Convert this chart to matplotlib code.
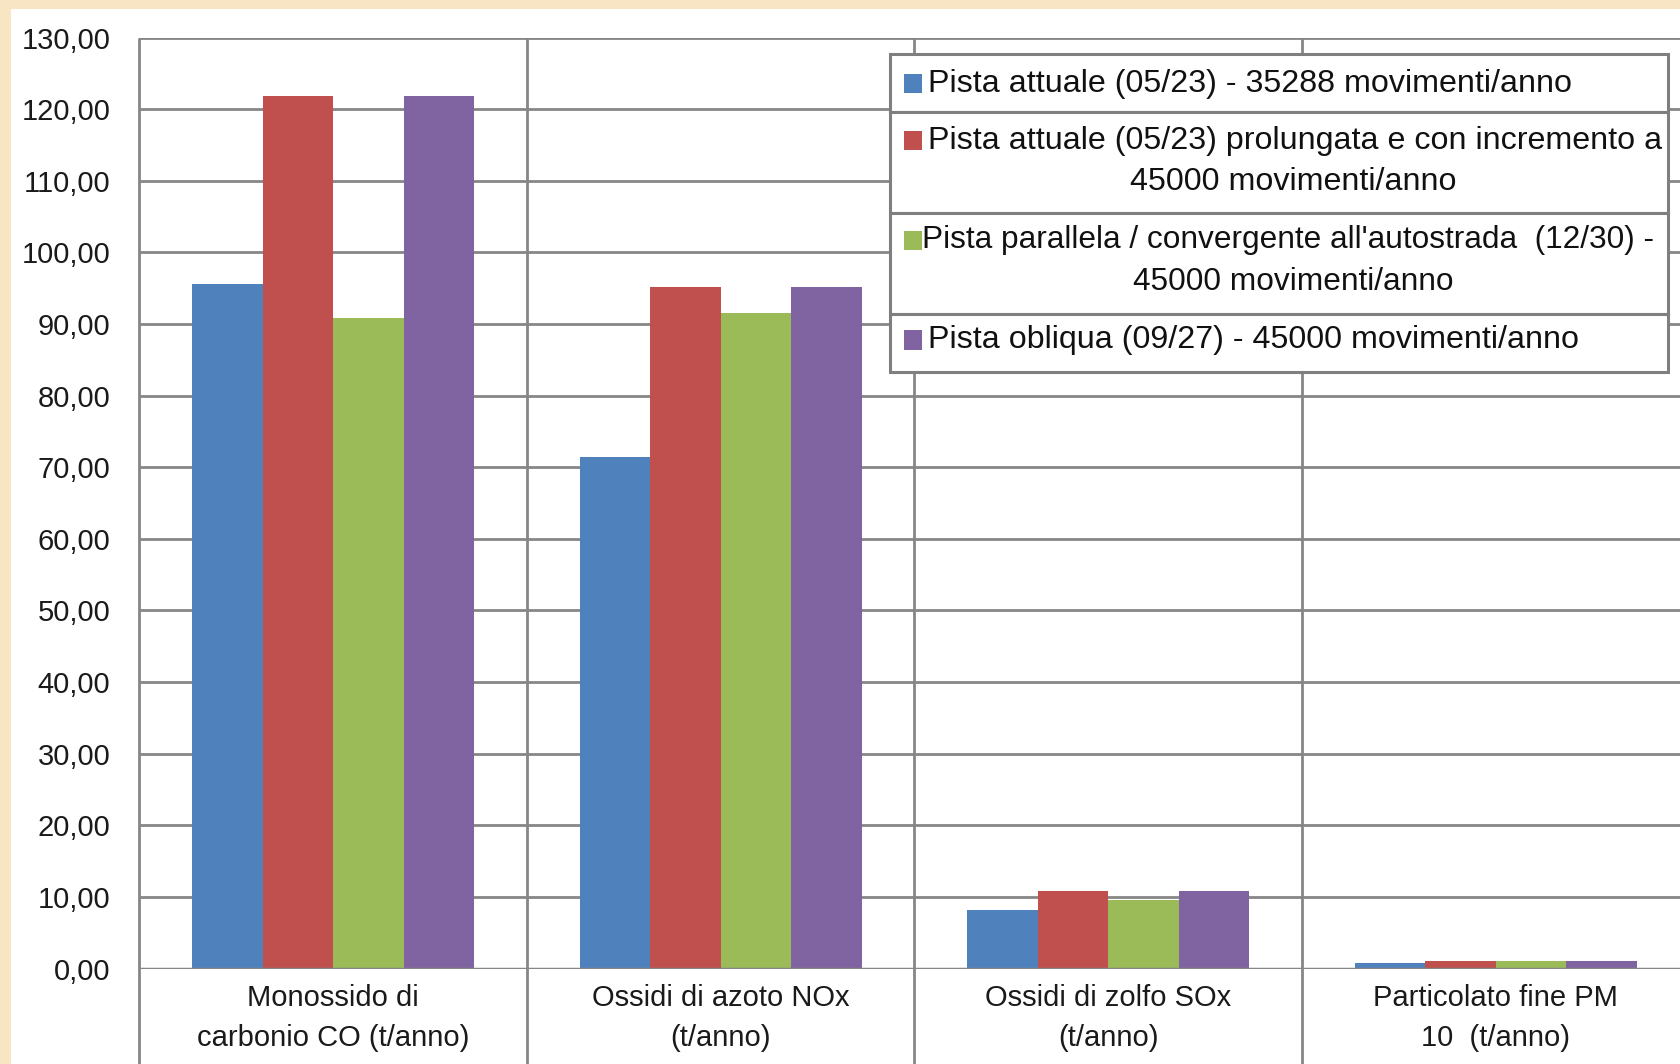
import matplotlib
matplotlib.use("Agg")
import matplotlib.pyplot as plt
import numpy as np
from matplotlib.patches import Rectangle
from matplotlib.ticker import FuncFormatter, MultipleLocator
import matplotlib.transforms as mtransforms

# Dati
categorie = [
    "Monossido di\ncarbonio CO (t/anno)",
    "Ossidi di azoto NOx\n(t/anno)",
    "Ossidi di zolfo SOx\n(t/anno)",
    "Particolato fine PM\n10  (t/anno)",
]
serie = [
    "Pista attuale (05/23) - 35288 movimenti/anno",
    "Pista attuale (05/23) prolungata e con incremento a\n45000 movimenti/anno",
    "Pista parallela / convergente all'autostrada  (12/30) -\n45000 movimenti/anno",
    "Pista obliqua (09/27) - 45000 movimenti/anno",
]
attuale = [95.6, 71.4, 8.2, 0.75]
prolungata = [121.8, 95.1, 10.8, 1.05]
parallela = [90.9, 91.5, 9.6, 1.05]
obliqua = [121.8, 95.1, 10.8, 1.05]
valori = [attuale, prolungata, parallela, obliqua]
colori = ["#4F81BD", "#C0504D", "#9BBB59", "#8064A2"]

plt.rcParams["font.family"] = ["Liberation Sans", "DejaVu Sans"]

W, H = 1568.0, 992.0  # coordinate di riferimento
fx = lambda x: x / W
fy = lambda y: 1 - y / H

fig = plt.figure(figsize=(16.81, 10.64), dpi=100)
fig.patch.set_facecolor("#F7E5C3")
fig.patches.append(Rectangle((fx(10), 0), 1, fy(8), transform=fig.transFigure,
                             facecolor="white", edgecolor="none", zorder=-10))

grigio = "#868686"
ax = fig.add_axes([fx(130), fy(903), 4 * 361.5 / W, (903 - 35) / H])
ax.set_facecolor("white")

x = np.arange(len(categorie))
w = 1 / 5.5
for i, (vals, col) in enumerate(zip(valori, colori)):
    ax.bar(x + (i - 1.5) * w, vals, width=w, color=col, zorder=3, linewidth=0)

ax.set_xlim(-0.5, 3.5)
ax.set_ylim(0, 130)
ax.yaxis.set_major_locator(MultipleLocator(10))
ax.yaxis.set_major_formatter(FuncFormatter(lambda v, p: f"{v:.2f}".replace(".", ",")))
ax.grid(axis="y", color=grigio, linewidth=2, zorder=1)
for s in ax.spines.values():
    s.set_visible(False)

# linee verticali tra le categorie (prolungate sotto l'asse)
trans = mtransforms.blended_transform_factory(ax.transData, ax.transAxes)
ax.vlines([-0.5, 0.5, 1.5, 2.5, 3.5], -0.2, 1, transform=trans, colors=grigio,
          linewidth=2, clip_on=False, zorder=1)
ax.axhline(0, color=grigio, linewidth=2.5, zorder=4)

ax.tick_params(axis="y", length=0, pad=21, labelsize=21, labelcolor="#1a1a1a")
ax.set_xticks(x)
ax.set_xticklabels(categorie, linespacing=1.55)
ax.tick_params(axis="x", length=0, pad=11, labelsize=21, labelcolor="#1a1a1a")

# legenda disegnata come tabella
bordo = "#7F7F7F"
righe = [50, 104, 199, 293, 347]
lx0, lx1 = 830, 1556
for y0, y1 in zip(righe[:-1], righe[1:]):
    fig.patches.append(Rectangle((fx(lx0), fy(y1)), fx(lx1) - fx(lx0), fy(y0) - fy(y1),
                                 transform=fig.transFigure, facecolor="white",
                                 edgecolor=bordo, linewidth=2.2, zorder=5))
testo_y = [78, 131, 224, 317]
dim_txt = [23.2, 23.2, 22.8, 23.2]
for i, (nome, col, ty) in enumerate(zip(serie, colori, testo_y)):
    fig.patches.append(Rectangle((fx(843), fy(ty + 9)), fx(17), 18 / H,
                                 transform=fig.transFigure, facecolor=col,
                                 edgecolor="none", zorder=6))
    righe_txt = nome.split("\n")
    x_txt = 860 if i == 2 else 866
    fig.text(fx(x_txt), fy(ty), righe_txt[0], fontsize=dim_txt[i], va="center", ha="left",
             color="#111111", zorder=7)
    if len(righe_txt) > 1:
        fig.text(fx(1206), fy(ty + 39), righe_txt[1], fontsize=dim_txt[i], va="center",
                 ha="center", color="#111111", zorder=7)

fig.savefig("out.png", dpi=100, facecolor=fig.get_facecolor())
